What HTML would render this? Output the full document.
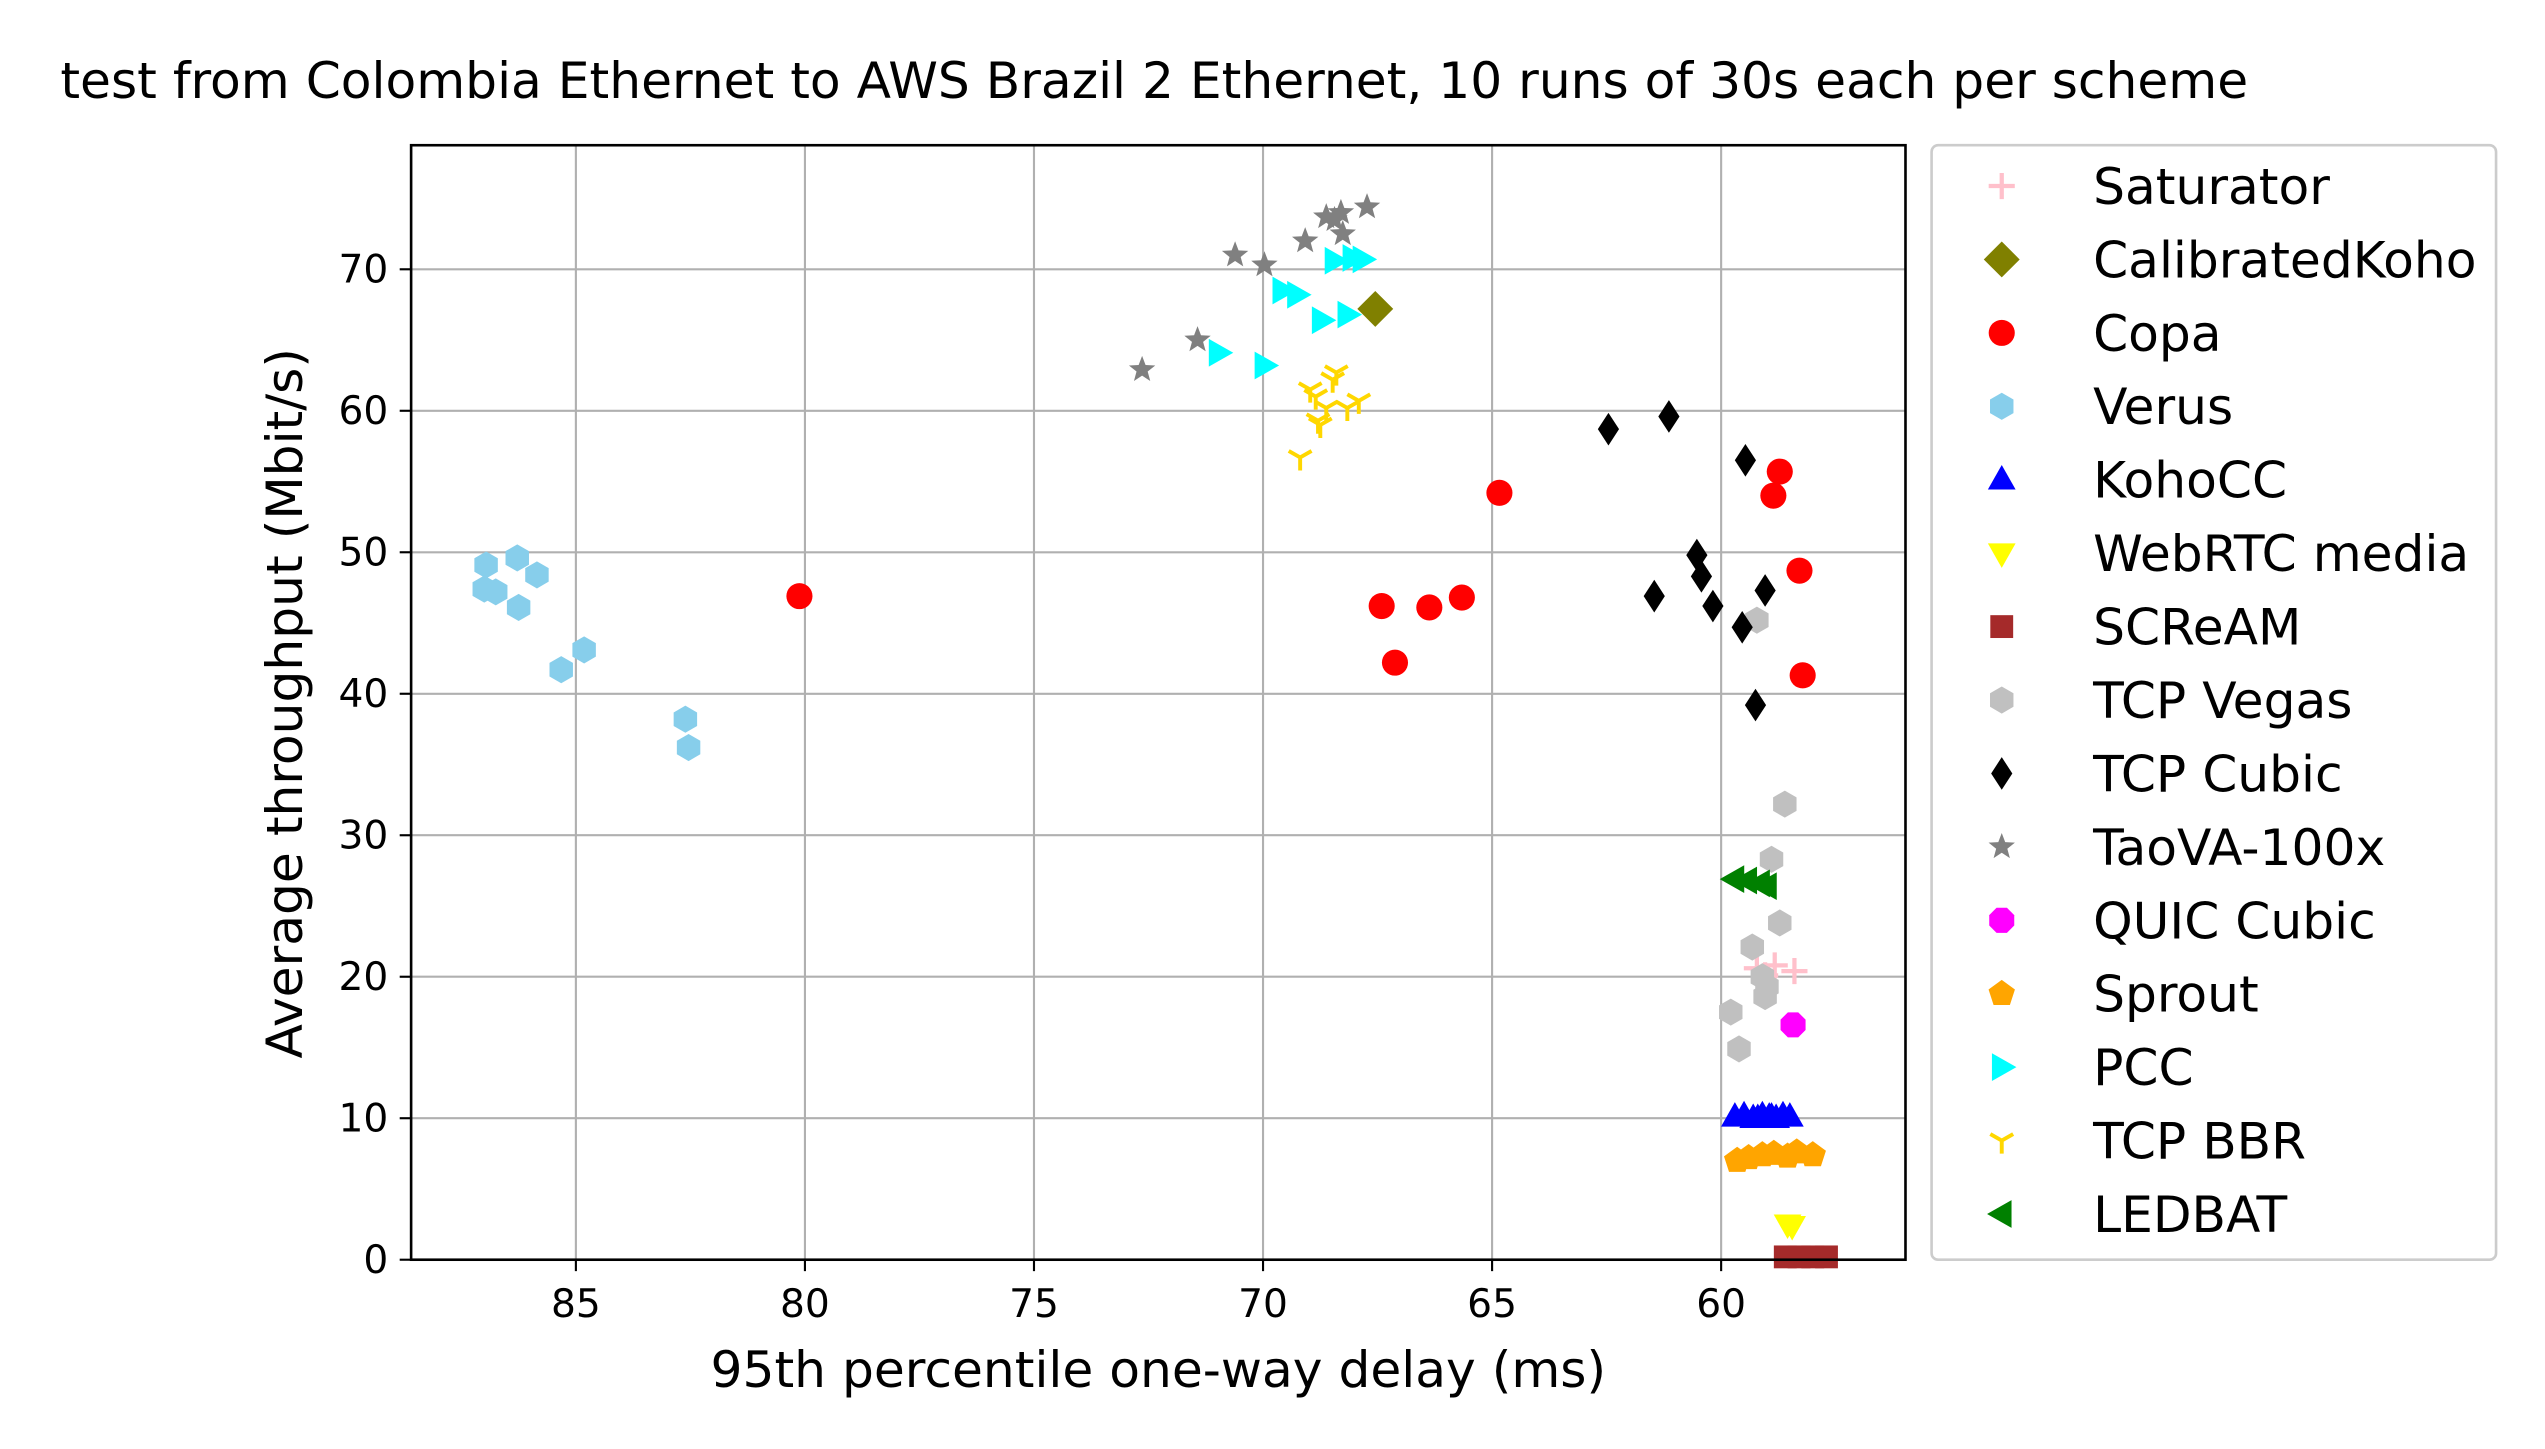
<!DOCTYPE html>
<html><head><meta charset="utf-8"><style>html,body{margin:0;padding:0;background:#fff}svg{display:block}text{font-family:"DejaVu Sans","Liberation Sans",sans-serif}</style></head>
<body>
<svg id="chart" width="2545" height="1449" viewBox="0 0 1560 888" preserveAspectRatio="none" xmlns="http://www.w3.org/2000/svg">
<text x="37" y="60" font-size="30.8" fill="#000">test from Colombia Ethernet to AWS Brazil 2 Ethernet, 10 runs of 30s each per scheme</text>
<g id="grid"></g><g id="ticks"></g><g id="marks"></g>
<rect x="252" y="89" width="916" height="683" fill="none" stroke="#000" stroke-width="1.6"/>
<text x="710" y="850" font-size="30.8" text-anchor="middle">95th percentile one-way delay (ms)</text>
<text transform="translate(185,431) rotate(-90)" font-size="30.8" text-anchor="middle">Average throughput (Mbit/s)</text>
<rect x="1184" y="89" width="346" height="683" rx="4" fill="#fff" stroke="#ccc" stroke-width="1.6"/>
<g id="legend"></g>
</svg>
<script>
const xTicks=[85,80,75,70,65,60];
const yTicks=[0,10,20,30,40,50,60,70];
const schemes=["Saturator","CalibratedKoho","Copa","Verus","KohoCC","WebRTC media","SCReAM","TCP Vegas","TCP Cubic","TaoVA-100x","QUIC Cubic","Sprout","PCC","TCP BBR","LEDBAT"];
const colors=["pink","olive","red","skyblue","blue","yellow","brown","silver","black","gray","magenta","orange","cyan","gold","green"];
const shapes=["plus","diamond","circle","hexagon","tri-up","tri-down","square","hexagon","thin-diamond","star","octagon","pentagon","tri-right","tri-y","tri-left"];
const delays=[
[59.22,58.83,58.40,59.04],
[67.55],
[80.12,64.84,67.41,66.37,65.66,67.12,58.72,58.86,58.29,58.22],
[86.96,87.0,86.75,86.28,86.25,85.85,85.32,84.82,82.61,82.54],
[59.7,59.5,59.3,59.1,58.95,58.8,58.65,58.5,59.2,58.9],
[58.55,58.45],
[58.6,58.3,58.0,57.7],
[59.22,58.61,58.90,58.72,59.32,59.00,59.04,59.79,59.61,59.1],
[62.46,61.14,59.47,60.53,60.43,61.46,60.18,59.54,59.04,59.25],
[72.64,71.43,70.61,69.97,69.08,68.62,68.30,68.26,67.73,68.44],
[58.43],
[59.65,59.4,59.1,58.85,58.55,58.35,58.0],
[70.97,69.97,69.58,69.26,68.72,68.16,68.44,68.05,67.83],
[69.19,68.97,68.80,68.62,68.48,68.40,68.16,67.91,68.75,68.85],
[59.71,59.43,59.15,59.0]];
const thr=[
[20.6,20.8,20.4,20.1],
[67.2],
[46.9,54.2,46.2,46.1,46.8,42.2,55.7,54.0,48.7,41.3],
[49.1,47.4,47.2,49.6,46.1,48.4,41.7,43.1,38.2,36.2],
[10.1,10.2,10.0,10.2,10.1,10.0,10.2,10.1,10.0,10.1],
[2.5,2.4],
[0.2,0.2,0.2,0.2],
[45.2,32.2,28.3,23.8,22.1,19.3,18.6,17.5,14.9,20.0],
[58.7,59.6,56.5,49.8,48.3,46.9,46.2,44.7,47.3,39.2],
[62.9,65.0,71.0,70.3,72.0,73.7,74.0,72.5,74.4,73.5],
[16.6],
[7.0,7.2,7.4,7.5,7.3,7.6,7.4],
[64.1,63.2,68.5,68.2,66.4,66.8,70.6,70.8,70.7],
[56.7,61.5,59.3,60.2,62.2,62.7,60.2,60.7,59.0,61.0],
[26.9,26.8,26.6,26.4]];
const NS="http://www.w3.org/2000/svg";
const X=d=>353+(85-d)*28.08;
const Y=v=>772-v*8.671;
function mk(tag,attrs,parent){const e=document.createElementNS(NS,tag);for(const k in attrs)e.setAttribute(k,attrs[k]);parent.appendChild(e);return e;}
function poly(n,r,rot){let p=[];for(let i=0;i<n;i++){const a=rot+i*2*Math.PI/n;p.push((r*Math.cos(a)).toFixed(2)+","+(r*Math.sin(a)).toFixed(2));}return p.join(" ");}
function marker(shape,color,cx,cy,g){
 const t=`translate(${cx},${cy})`;let e;
 if(shape==="circle")e=mk("circle",{cx:cx,cy:cy,r:8,fill:color},g);
 else if(shape==="octagon")e=mk("polygon",{points:poly(8,8.3,Math.PI/8),transform:t,fill:color},g);
 else if(shape==="hexagon")e=mk("polygon",{points:poly(6,8.3,-Math.PI/2),transform:t,fill:color},g);
 else if(shape==="pentagon")e=mk("polygon",{points:poly(5,8.5,-Math.PI/2),transform:t,fill:color},g);
 else if(shape==="diamond")e=mk("polygon",{points:"0,-11 11,0 0,11 -11,0",transform:t,fill:color},g);
 else if(shape==="thin-diamond")e=mk("polygon",{points:"0,-10 6.5,0 0,10 -6.5,0",transform:t,fill:color},g);
 else if(shape==="square")e=mk("rect",{x:cx-7,y:cy-7,width:14,height:14,fill:color},g);
 else if(shape==="tri-up")e=mk("polygon",{points:"0,-9 8.5,6 -8.5,6",transform:t,fill:color},g);
 else if(shape==="tri-down")e=mk("polygon",{points:"0,9 8.5,-6 -8.5,-6",transform:t,fill:color},g);
 else if(shape==="tri-right")e=mk("polygon",{points:"9,0 -6,8.5 -6,-8.5",transform:t,fill:color},g);
 else if(shape==="tri-left")e=mk("polygon",{points:"-9,0 6,8.5 6,-8.5",transform:t,fill:color},g);
 else if(shape==="star")e=mk("polygon",{points:(()=>{let p=[];for(let i=0;i<10;i++){const r=i%2?3.6:8.5,a=-Math.PI/2+i*Math.PI/5;p.push((r*Math.cos(a)).toFixed(2)+","+(r*Math.sin(a)).toFixed(2));}return p.join(" ");})(),transform:t,fill:color},g);
 else if(shape==="plus")e=mk("path",{d:"M-8,0H8M0,-8V8",transform:t,stroke:color,"stroke-width":2.6,fill:"none"},g);
 else if(shape==="tri-y")e=mk("path",{d:"M0,0V8M0,0L-7,-4M0,0L7,-4",transform:t,stroke:color,"stroke-width":2.4,fill:"none"},g);
 return e;
}
const grid=document.getElementById("grid"),ticks=document.getElementById("ticks"),marks=document.getElementById("marks"),legend=document.getElementById("legend");
xTicks.forEach(v=>{
 const l=mk("line",{x1:X(v),x2:X(v),y1:89,y2:772,stroke:"#b0b0b0","stroke-width":1.3},grid);
 
 
 mk("line",{x1:X(v),x2:X(v),y1:772,y2:779,stroke:"#000","stroke-width":1.3},ticks);
 const tx=mk("text",{x:X(v),y:807,"font-size":24,"text-anchor":"middle"},ticks);tx.textContent=v;
 
 
});
yTicks.forEach(v=>{
 const l=mk("line",{x1:252,x2:1168,y1:Y(v),y2:Y(v),stroke:"#b0b0b0","stroke-width":1.3},grid);
 
 
 mk("line",{x1:245,x2:252,y1:Y(v),y2:Y(v),stroke:"#000","stroke-width":1.3},ticks);
 const tx=mk("text",{x:238,y:Y(v)+8,"font-size":24,"text-anchor":"end"},ticks);tx.textContent=v;
 
 
});
schemes.forEach((s,i)=>{
 const g=mk("g",{},marks);
 
 
 delays[i].forEach((d,j)=>{
  const m=marker(shapes[i],colors[i],X(d),Y(thr[i][j]),g);
  
  
 });
 const lg=mk("g",{},legend);
 
 
 const ly=114+i*45;
 marker(shapes[i],colors[i],1227,ly,lg);
 const tx=mk("text",{x:1283,y:ly+11,"font-size":30.8},lg);tx.textContent=s;
});
</script>
</body></html>
